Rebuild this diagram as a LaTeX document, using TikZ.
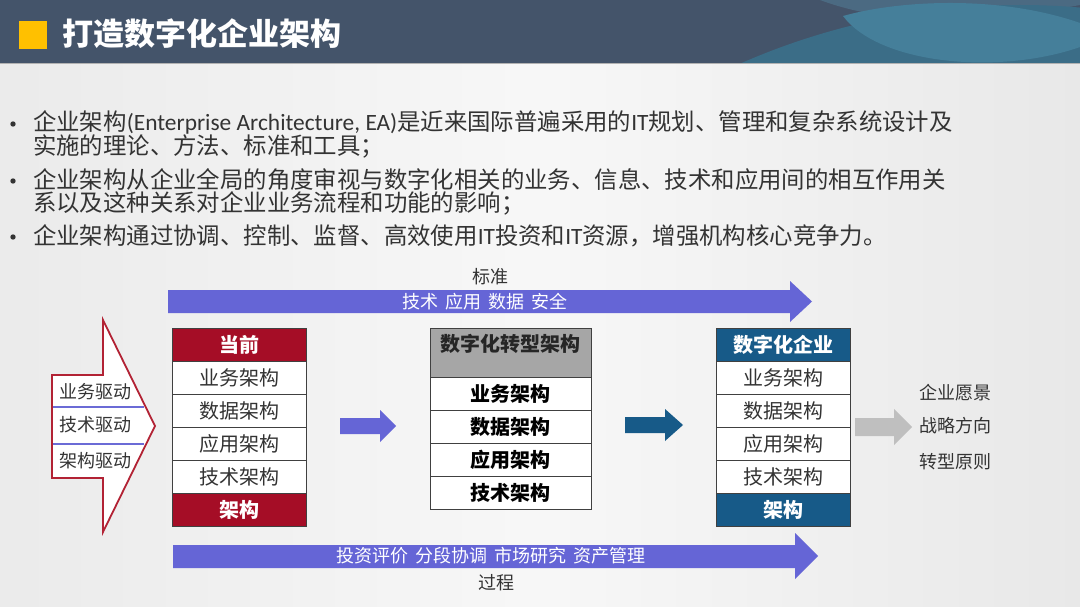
\documentclass[tikz,border=0pt]{standalone}
\usepackage{fontspec}
\setmainfont{Noto Sans CJK SC}
\newfontfamily\latinfont{Carlito}
\newcommand{\lat}[1]{{\latinfont #1}}
\definecolor{hdr}{HTML}{44546A}
\definecolor{tealA}{HTML}{3B6D87}
\definecolor{tealB}{HTML}{457F9A}
\definecolor{slateB}{HTML}{4B6A82}
\definecolor{accent}{HTML}{FFC000}
\definecolor{peri}{HTML}{6565D6}
\definecolor{redbox}{HTML}{A50D26}
\definecolor{bluebox}{HTML}{175A88}
\definecolor{txt}{HTML}{333333}
\definecolor{redline}{HTML}{B22234}
\definecolor{sepblue}{HTML}{6B6BD6}
\tikzset{
  fs/.style={font=\fontsize{#1}{#1}\selectfont},
  bullettext/.style={anchor=west, inner sep=0, text=txt, align=left, font=\fontsize{23.4}{23}\selectfont},
  cell/.style={draw=black!75, line width=0.8pt, fill=white, minimum width=134pt, minimum height=33pt, inner sep=0, text=txt, fs=20},
  redcell/.style={cell, fill=redbox, text=white, font=\fontsize{20}{20}\selectfont\bfseries},
  bluecell/.style={cell, fill=bluebox, text=white, font=\fontsize{20}{20}\selectfont\bfseries},
  midcell/.style={cell, minimum width=161pt, text=black, font=\fontsize{20}{20}\selectfont\bfseries},
  lbl/.style={inner sep=0, text=txt, fs=18},
  arrowtext/.style={inner sep=0, text=white, fs=18},
  bulletdot/.style={fill=txt},
}
\begin{document}
\begin{tikzpicture}[x=1pt,y=-1pt]
\useasboundingbox (0,0) rectangle (1080,607);
% background
\shade[left color=black!8, right color=black!9, middle color=black!3] (0,63) rectangle (1080,607);
% header
\fill[hdr] (0,0) rectangle (1080,63);
\begin{scope}
  \clip (0,0) rectangle (1080,63);
  \fill[slateB] (820,0) .. controls (900,30) and (1000,20) .. (1080,5) -- (1080,0) -- cycle;
  \fill[tealA] (1020,700) circle [radius=695];
  \fill[tealB] (843,16) .. controls (900,0) and (1000,-5) .. (1080,23) -- (1080,47) .. controls (1000,75) and (880,65) .. (843,16) -- cycle;
\end{scope}
\fill[black!30!white] (0,63) rectangle (1080,64.5);
\fill[accent] (19,21) rectangle (47,49);
\node[anchor=west, inner sep=0, text=white, font=\fontsize{31}{31}\selectfont\bfseries] (title) at (62,34) {打造数字化企业架构};
% bullets
\foreach \yy in {124,181,237} \fill[bulletdot] (13,\yy) circle [radius=2.7];
\node[bullettext] (b1) at (33,134.5) {企业架构\lat{(Enterprise Architecture, EA)}是近来国际普遍采用的\lat{IT}规划、管理和复杂系统设计及\\实施的理论、方法、标准和工具；};
\node[bullettext] (b2) at (33,191.5) {企业架构从企业全局的角度审视与数字化相关的业务、信息、技术和应用间的相互作用关\\系以及这种关系对企业业务流程和功能的影响；};
\node[bullettext] (b3) at (33,236) {企业架构通过协调、控制、监督、高效使用\lat{IT}投资和\lat{IT}资源，增强机构核心竞争力。};
% top arrow
\node[lbl] (std) at (490,277) {标准};
\fill[peri] (168,290) -- (790,290) -- (790,281) -- (812,301.5) -- (790,322) -- (790,313) -- (168,313) -- cycle;
\node[arrowtext] (toptext) at (485,302) {技术 \,应用 \,数据 \,安全};
% bottom arrow
\fill[peri] (173,545) -- (795,545) -- (795,533) -- (818,556) -- (795,579) -- (795,568) -- (173,568) -- cycle;
\node[arrowtext] (bottext) at (491,556) {投资评价 \,分段协调 \,市场研究 \,资产管理};
\node[lbl] (proc) at (496,583) {过程};
% left big arrow
\draw[redline, line width=1.8pt, fill=white, line join=miter] (52,375) -- (103,375) -- (103,320) -- (155,426) -- (103,532) -- (103,478) -- (52,478) -- cycle;
\draw[sepblue, line width=1.5pt] (53,407) -- (144,407);
\draw[sepblue, line width=1.5pt] (53,444) -- (144,444);
\node[lbl] (d1) at (95,392) {业务驱动};
\node[lbl] (d2) at (95,425) {技术驱动};
\node[lbl] (d3) at (95,461) {架构驱动};
% left box
\node[redcell] (L0) at (239,344.5) {当前};
\node[cell] (L1) at (239,377.5) {业务架构};
\node[cell] (L2) at (239,410.5) {数据架构};
\node[cell] (L3) at (239,443.5) {应用架构};
\node[cell] (L4) at (239,476.5) {技术架构};
\node[redcell] (L5) at (239,509.5) {架构};
% arrow 1
\fill[peri] (340,418) -- (380,418) -- (380,410) -- (396,426) -- (380,442) -- (380,434) -- (340,434) -- cycle;
% middle box
\node[midcell, fill=black!35, minimum height=49pt] (M0) at (510.5,352.5) {};
\node[inner sep=0, text=black!85, font=\fontsize{20}{20}\selectfont\bfseries] (M0t) at (510.5,344) {数字化转型架构};
\node[midcell] (M1) at (510.5,393.5) {业务架构};
\node[midcell] (M2) at (510.5,426.5) {数据架构};
\node[midcell] (M3) at (510.5,459.5) {应用架构};
\node[midcell] (M4) at (510.5,492.5) {技术架构};
% arrow 2
\fill[bluebox] (625,417) -- (665,417) -- (665,409) -- (683,425) -- (665,441) -- (665,433) -- (625,433) -- cycle;
% right box
\node[bluecell] (R0) at (783,344.5) {数字化企业};
\node[cell] (R1) at (783,377.5) {业务架构};
\node[cell] (R2) at (783,410.5) {数据架构};
\node[cell] (R3) at (783,443.5) {应用架构};
\node[cell] (R4) at (783,476.5) {技术架构};
\node[bluecell] (R5) at (783,509.5) {架构};
% arrow 3
\fill[black!25] (855,418) -- (894,418) -- (894,409) -- (912,427) -- (894,445) -- (894,436) -- (855,436) -- cycle;
\node[lbl] (g1) at (955,393) {企业愿景};
\node[lbl] (g2) at (955,426) {战略方向};
\node[lbl] (g3) at (955,462) {转型原则};
\end{tikzpicture}
\end{document}
